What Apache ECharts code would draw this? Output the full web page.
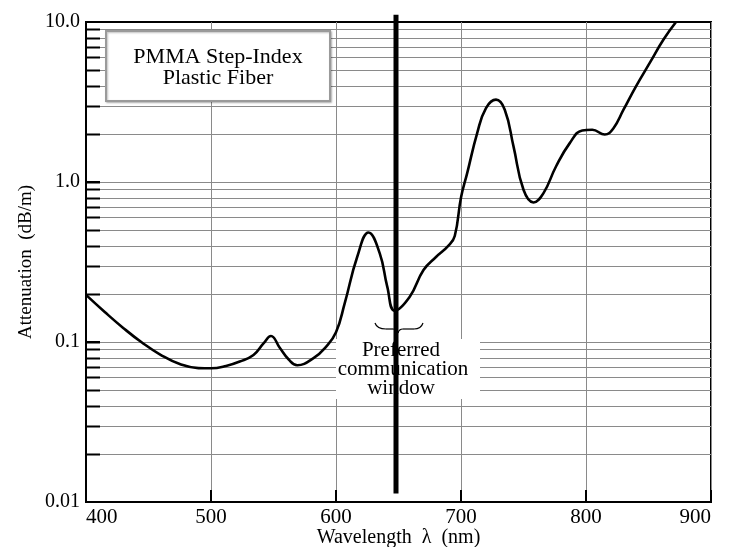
<!DOCTYPE html>
<html>
<head>
<meta charset="utf-8">
<script src="https://cdn.jsdelivr.net/npm/echarts@6/dist/echarts.min.js"></script>
<style>html,body{margin:0;padding:0;background:#fff}#c{width:746px;height:547px}</style>
</head>
<body>
<div id="c"></div>
<script>
// ---- data ----
var wavelength = [400, 415, 430, 445, 460, 475, 490, 500, 512, 523, 534, 542, 548, 555, 562, 569, 582, 592, 600, 607, 617, 626, 635, 641, 647, 659, 670, 680, 690, 695, 700, 705, 713, 720, 728, 735, 742, 750, 758, 766, 776, 787, 797, 805, 815, 822, 830, 840, 851, 862, 872];
var attenuation = [0.197, 0.154, 0.122, 0.0989, 0.0829, 0.0728, 0.0687, 0.0685, 0.0708, 0.0755, 0.083, 0.098, 0.109, 0.092, 0.078, 0.0716, 0.0793, 0.0933, 0.115, 0.175, 0.341, 0.483, 0.358, 0.222, 0.157, 0.192, 0.282, 0.34, 0.40, 0.46, 0.80, 1.14, 2.03, 2.90, 3.27, 2.83, 1.67, 0.894, 0.745, 0.852, 1.25, 1.75, 2.10, 2.12, 1.98, 2.17, 2.83, 3.96, 5.55, 7.77, 10];
var xTicks = [400, 500, 600, 700, 800, 900];
var yTickLabels = {0.01: '0.01', 0.1: '0.1', 1: '1.0', 10: '10.0'};
var yGridValues = [0.02,0.03,0.04,0.05,0.06,0.07,0.08,0.09,0.1,0.2,0.3,0.4,0.5,0.6,0.7,0.8,0.9,1,2,3,4,5,6,7,8,9];
var windowLambda = 648;
var windowSpan = [11.1, 0.0113];
var legendLines = ['PMMA Step-Index', 'Plastic Fiber'];
var noteLines = ['Preferred', 'communication', 'window'];
var xTitle = 'Wavelength  \u03bb  (nm)';
var yTitle = 'Attenuation  (dB/m)';
var XMIN = 400, XMAX = 900, YMIN = 0.01, YMAX = 10;

var curve = wavelength.map(function (w, i) { return [w, attenuation[i]]; });
var gridData = yGridValues.map(function (v) { return [XMIN, v]; });
var FONT = '"Liberation Serif", "DejaVu Serif", serif';

function brace(x1, y1, x2, y2, cx, cy) {
  return {type: 'bezierCurve', z: 6, shape: {x1: x1, y1: y1, x2: x2, y2: y2, cpx1: cx, cpy1: cy},
    style: {fill: null, stroke: '#000', lineWidth: 1.2}};
}

var chart = echarts.init(document.getElementById('c'), null, {renderer: 'canvas'});
chart.setOption({
  animation: false,
  backgroundColor: '#fff',
  grid: {left: 86, top: 22, right: 35, bottom: 45, containLabel: false, outerBoundsMode: 'none',
         show: true, borderColor: '#000', borderWidth: 2, backgroundColor: 'transparent'},
  xAxis: {
    type: 'value', min: XMIN, max: XMAX, interval: 100,
    name: xTitle, nameLocation: 'middle', nameGap: 26, nameMoveOverlap: false,
    nameTextStyle: {fontFamily: FONT, fontSize: 20, color: '#000'},
    axisLine: {lineStyle: {color: '#000', width: 2}},
    axisTick: {inside: true, length: 12, lineStyle: {color: '#000', width: 2}},
    axisLabel: {fontFamily: FONT, fontSize: 21, color: '#000', margin: 5, alignMinLabel: 'left', alignMaxLabel: 'right',
      formatter: function (v) { return xTicks.indexOf(v) >= 0 ? String(v) : ''; }},
    splitLine: {show: true, lineStyle: {color: '#8a8a8a', width: 1}}
  },
  yAxis: {
    type: 'log', logBase: 10, min: YMIN, max: YMAX,
    name: yTitle, nameLocation: 'middle', nameGap: 50, nameRotate: 90, nameMoveOverlap: false,
    nameTextStyle: {fontFamily: FONT, fontSize: 19, color: '#000'},
    axisLine: {lineStyle: {color: '#000', width: 2}},
    axisTick: {inside: true, length: 14, lineStyle: {color: '#000', width: 2}},
    axisLabel: {fontFamily: FONT, fontSize: 20, color: '#000', margin: 6,
      formatter: function (v) { var k = +(+v).toPrecision(3); return yTickLabels[k] || ''; }},
    splitLine: {show: false}
  },
  graphic: [
    {type: 'rect', z: 5, shape: {x: 106, y: 31, width: 224, height: 70},
     style: {fill: '#fff', stroke: '#9a9a9a', lineWidth: 2, shadowColor: 'rgba(0,0,0,0.25)', shadowBlur: 2, shadowOffsetX: 1, shadowOffsetY: 1}},
    {type: 'text', z: 6, x: 218, y: 57, style: {text: legendLines[0], font: '22px ' + FONT, fill: '#000', align: 'center', verticalAlign: 'middle'}},
    {type: 'text', z: 6, x: 218, y: 78, style: {text: legendLines[1], font: '22px ' + FONT, fill: '#000', align: 'center', verticalAlign: 'middle'}},
    {type: 'rect', z: 5, shape: {x: 336, y: 339, width: 144, height: 60}, style: {fill: '#fff'}},
    {type: 'text', z: 6, x: 401, y: 350, style: {text: noteLines[0], font: '21px ' + FONT, fill: '#000', align: 'center', verticalAlign: 'middle'}},
    {type: 'text', z: 6, x: 403, y: 369, style: {text: noteLines[1], font: '21px ' + FONT, fill: '#000', align: 'center', verticalAlign: 'middle'}},
    {type: 'text', z: 6, x: 401, y: 388, style: {text: noteLines[2], font: '21px ' + FONT, fill: '#000', align: 'center', verticalAlign: 'middle'}},
    brace(375, 323, 386, 329, 377, 329),
    {type: 'line', z: 6, shape: {x1: 386, y1: 329, x2: 393, y2: 329}, style: {stroke: '#000', lineWidth: 1.2}},
    brace(393, 329, 398, 333, 397, 329),
    brace(398, 333, 403, 329, 399, 329),
    {type: 'line', z: 6, shape: {x1: 403, y1: 329, x2: 414, y2: 329}, style: {stroke: '#000', lineWidth: 1.2}},
    brace(414, 329, 423, 323, 421, 329)
  ],
  series: [
    {
      type: 'custom', z: 1, silent: true, clip: false,
      data: gridData, encode: {x: 0, y: 1},
      renderItem: function (params, api) {
        var cs = params.coordSys;
        var y = Math.round(api.coord([XMIN, api.value(1)])[1]) + 0.5;
        return {type: 'group', children: [
          {type: 'line', shape: {x1: cs.x, y1: y, x2: cs.x + cs.width, y2: y}, style: {stroke: '#8a8a8a', lineWidth: 1}},
          {type: 'line', shape: {x1: cs.x, y1: y, x2: cs.x + 14, y2: y}, style: {stroke: '#000', lineWidth: 2}}
        ]};
      }
    },
    {
      type: 'line', z: 3, data: curve, smooth: 0.45, symbol: 'none',
      lineStyle: {color: '#000', width: 2.6}
    },
    {
      type: 'line', z: 10, clip: false, symbol: 'none',
      data: [[windowLambda, windowSpan[0]], [windowLambda, windowSpan[1]]],
      lineStyle: {color: '#000', width: 5, cap: 'butt'}
    }
  ]
});
</script>
</body>
</html>
